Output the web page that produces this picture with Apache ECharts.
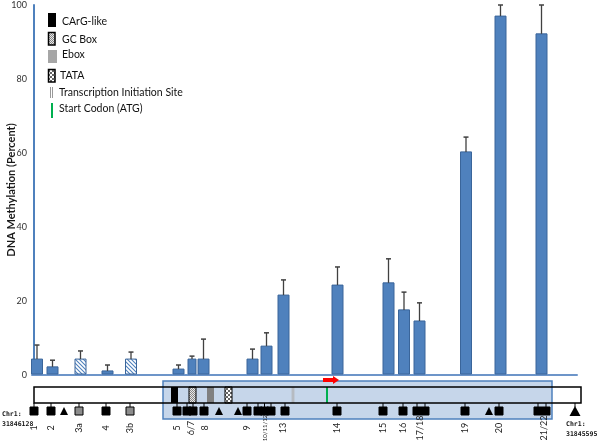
<!DOCTYPE html>
<html><head><meta charset="utf-8">
<script src="https://cdn.jsdelivr.net/npm/echarts@6/dist/echarts.min.js"></script>
<style>html,body{margin:0;padding:0;background:#fff}#c{width:600px;height:443px}</style>
</head><body><div id="c"></div>
<script>
// ---- data ----
const barLabels    = ['1','2','3a','4','3b','5','6/7','8','9','10/11/12','13','14','15','16','17/18','19','20','21/22'];
const barPositions = [3, 18.5, 46.5, 73.5, 97, 144.5, 158, 169.5, 218.5, 232.5, 249.5, 303.5, 354.5, 370, 385.5, 432, 466.5, 507.5];
const barValues    = [4.3, 2.2, 4.3, 1.1, 4.3, 1.6, 4.3, 4.3, 4.3, 7.8, 21.6, 24.3, 24.9, 17.6, 14.6, 60.3, 97.0, 92.2];
const barErrors    = [3.8, 1.8, 2.2, 1.6, 1.9, 1.1, 0.8, 5.4, 2.7, 3.6, 4.1, 4.9, 6.5, 4.8, 4.9, 4.0, 3.0, 7.8];
const hatchedBars  = ['3a','3b'];

const sitePositions = [0,17,30,45,72,96,143,153,159,170,185,204,213,224,230.5,237,251,303,349,369,383,391,431,455,465,504,512,541];
const siteTypes     = ['sq','sq','tri','gsq','sq','gsq','sq','sq','sq','sq','tri','tri','sq','sq','sq','sq','sq','sq','sq','sq','sq','sq','sq','tri','sq','sq','sq','end'];

const siteLabels     = ['1','2','3a','4','3b','5','6/7','8','9','10/11/12','13','14','15','16','17/18','19','20','21/22'];
const siteLabelPos   = [0,17,45,72,96,143,157,171,213,231,249,303,349,369,386,431,465,510];

const geneSpan      = [0, 547];
const shadedRegion  = [129, 518];
const elementNames  = ['CArG-like','GC Box','Ebox','TATA'];
const elementStarts = [137, 155, 173, 191];
const elementEnds   = [144, 162, 180, 198];
const tisPosition   = 259;
const atgPosition   = 293;
const arrowSpan     = [289, 305];
const chrStart      = 'Chr1:\n31846128';
const chrEnd        = 'Chr1:\n31845595';

// ---- patterns ----
function pattern(w, h, draw) {
  const c = document.createElement('canvas'); c.width = w; c.height = h;
  const g = c.getContext('2d'); draw(g, w, h);
  return { image: c, repeat: 'repeat' };
}
const hatch = pattern(4, 4, (g) => {
  g.fillStyle = '#fff'; g.fillRect(0,0,4,4);
  g.strokeStyle = '#4f81bd'; g.lineWidth = 1.1;
  g.beginPath(); g.moveTo(-1,-1); g.lineTo(5,5); g.moveTo(-1,3); g.lineTo(1,5); g.moveTo(3,-1); g.lineTo(5,1); g.stroke();
});
const dots = pattern(2, 2, (g) => {
  g.fillStyle = '#e8e8e8'; g.fillRect(0,0,2,2);
  g.fillStyle = '#888'; g.fillRect(0,0,1,1); g.fillRect(1,1,1,1);
});
const checker = pattern(4, 4, (g) => {
  g.fillStyle = '#666'; g.fillRect(0,0,4,4);
  g.fillStyle = '#fff'; g.fillRect(0,0,2,2); g.fillRect(2,2,2,2);
});
const elementFill = {'CArG-like':'#000','GC Box':dots,'Ebox':'#808080','TATA':checker};
const elementStroke = {'CArG-like':null,'GC Box':'#000','Ebox':null,'TATA':'#000'};

const BLUE = '#4f81bd';
const chart = echarts.init(document.getElementById('c'));
const font = 'Lato, "Open Sans", sans-serif';

const option = {
  animation: false,
  grid: { left: 32, right: 23, top: 5, bottom: 68, containLabel: false, outerBoundsMode: 'none' },
  xAxis: { type: 'value', min: -2, max: 543, axisLine: { show: true, lineStyle: { color: '#6d95c9', width: 2 } },
           axisTick: { show: false }, axisLabel: { show: false }, splitLine: { show: false } },
  yAxis: { type: 'value', min: 0, max: 100, interval: 20,
           name: 'DNA Methylation (Percent)', nameLocation: 'middle', nameGap: 15, nameMoveOverlap: false,
           nameTextStyle: { fontFamily: font, fontWeight: 'bold', fontSize: 11, color: '#1a1a1a' },
           axisLine: { show: true, lineStyle: { color: BLUE, width: 2 } }, axisTick: { show: false },
           axisLabel: { fontFamily: font, fontSize: 9, color: '#333', margin: 5 }, splitLine: { show: false } },
  series: [
    // shaded region
    { type: 'custom', clip: false, data: [[shadedRegion[0], shadedRegion[1]]], encode: { x: [0, 1] },
      renderItem: (p, api) => {
        const a = api.coord([api.value(0), 0]), b = api.coord([api.value(1), 0]);
        return { type: 'rect', shape: { x: a[0], y: a[1] + 6, width: b[0] - a[0], height: 38 },
                 style: { fill: '#c6d6ea', stroke: BLUE, lineWidth: 1.5 } };
      } },
    // gene elements
    { type: 'custom', clip: false, data: elementNames.map((n, i) => [elementStarts[i], elementEnds[i], i]), encode: { x: [0, 1] },
      renderItem: (p, api) => {
        const n = elementNames[api.value(2)];
        const a = api.coord([api.value(0), 0]), b = api.coord([api.value(1), 0]);
        return { type: 'rect', shape: { x: a[0], y: a[1] + 12, width: b[0] - a[0], height: 16 },
                 style: { fill: elementFill[n], stroke: elementStroke[n], lineWidth: elementStroke[n] ? 1 : 0 } };
      } },
    // TIS and ATG
    { type: 'custom', clip: false, data: [[tisPosition, 0], [atgPosition, 1]], encode: { x: 0 },
      renderItem: (p, api) => {
        const a = api.coord([api.value(0), 0]);
        if (api.value(1) === 0) {
          return { type: 'group', children: [
            { type: 'line', shape: { x1: a[0] - 0.8, y1: a[1] + 12, x2: a[0] - 0.8, y2: a[1] + 28 }, style: { stroke: '#b0b0b0', lineWidth: 1 } },
            { type: 'line', shape: { x1: a[0] + 0.8, y1: a[1] + 12, x2: a[0] + 0.8, y2: a[1] + 28 }, style: { stroke: '#b0b0b0', lineWidth: 1 } } ] };
        }
        return { type: 'line', shape: { x1: a[0], y1: a[1] + 12, x2: a[0], y2: a[1] + 28 }, style: { stroke: '#00b050', lineWidth: 2 } };
      } },
    // gene outline
    { type: 'custom', clip: false, data: [[geneSpan[0], geneSpan[1]]], encode: { x: [0, 1] },
      renderItem: (p, api) => {
        const a = api.coord([api.value(0), 0]), b = api.coord([api.value(1), 0]);
        return { type: 'rect', shape: { x: a[0], y: a[1] + 12, width: b[0] - a[0], height: 16 },
                 style: { fill: null, stroke: '#000', lineWidth: 1.5 } };
      } },
    // arrow
    { type: 'custom', clip: false, data: [[arrowSpan[0], arrowSpan[1]]], encode: { x: [0, 1] },
      renderItem: (p, api) => {
        const a = api.coord([api.value(0), 0]), b = api.coord([api.value(1), 0]);
        const y = a[1] + 5, L = a[0], R = b[0], h = R - 6;
        return { type: 'polygon', shape: { points: [[L, y - 2], [h, y - 2], [h, y - 4], [R, y], [h, y + 4], [h, y + 2], [L, y + 2]] },
                 style: { fill: '#ff0000' } };
      } },
    // site markers
    { type: 'custom', clip: false, data: sitePositions.map((x, i) => [x, i]), encode: { x: 0 },
      renderItem: (p, api) => {
        const t = siteTypes[api.value(1)];
        const a = api.coord([api.value(0), 0]);
        const x = a[0], y = a[1] + 36;
        if (t === 'tri') {
          return { type: 'polygon', shape: { points: [[x - 4, y + 4], [x + 4, y + 4], [x, y - 4]] }, style: { fill: '#000' } };
        }
        if (t === 'end') {
          return { type: 'group', children: [
            { type: 'line', shape: { x1: x, y1: a[1] + 28, x2: x, y2: y - 4 }, style: { stroke: '#000', lineWidth: 1 } },
            { type: 'polygon', shape: { points: [[x - 5.5, y + 5], [x + 5.5, y + 5], [x, y - 5]] }, style: { fill: '#000' } } ] };
        }
        return { type: 'group', children: [
          { type: 'line', shape: { x1: x, y1: a[1] + 28, x2: x, y2: y - 4 }, style: { stroke: '#000', lineWidth: 1 } },
          { type: 'rect', shape: { x: x - 4, y: y - 4, width: 8, height: 8 },
            style: { fill: t === 'gsq' ? '#8c8c8c' : '#000', stroke: '#000', lineWidth: 1 } } ] };
      } },
    // site labels
    { type: 'custom', clip: false, data: siteLabelPos.map((x, i) => [x, i]), encode: { x: 0 },
      renderItem: (p, api) => {
        const s = siteLabels[api.value(1)];
        const a = api.coord([api.value(0), 0]);
        return { type: 'text', x: a[0], y: a[1] + 53, rotation: Math.PI / 2,
                 style: { text: s, align: 'center', verticalAlign: 'middle', fill: '#222',
                          font: (s.length > 6 ? '6px ' : '9px ') + font } };
      } },
    // bars
    { type: 'custom', clip: false, data: barLabels.map((l, i) => [barPositions[i], barValues[i], i]), encode: { x: 0, y: 1 },
      renderItem: (p, api) => {
        const l = barLabels[api.value(2)];
        const w = l === '6/7' ? 8 : 11;
        const b = api.coord([api.value(0), 0]), t = api.coord([api.value(0), api.value(1)]);
        return { type: 'rect', shape: { x: b[0] - w / 2, y: t[1], width: w, height: b[1] - t[1] - 1 },
                 style: { fill: hatchedBars.includes(l) ? hatch : BLUE, stroke: '#3a659a', lineWidth: 1 } };
      } },
    // error bars
    { type: 'custom', clip: false, data: barLabels.map((l, i) => [barPositions[i], barValues[i], barValues[i] + barErrors[i]]), encode: { x: 0, y: [1, 2] },
      renderItem: (p, api) => {
        const a = api.coord([api.value(0), api.value(1)]), b = api.coord([api.value(0), api.value(2)]);
        return { type: 'group', children: [
          { type: 'line', shape: { x1: a[0], y1: a[1], x2: b[0], y2: b[1] }, style: { stroke: '#404040', lineWidth: 1.3 } },
          { type: 'line', shape: { x1: b[0] - 2.5, y1: b[1], x2: b[0] + 2.5, y2: b[1] }, style: { stroke: '#404040', lineWidth: 1.5 } } ] };
      } }
  ],
  graphic: [
    { type: 'rect', shape: { x: 48, y: 13, width: 8, height: 14 }, style: { fill: '#000' } },
    { type: 'text', x: 62, y: 22, style: { text: 'CArG-like', font: '10.5px ' + font, fill: '#111', verticalAlign: 'middle' } },
    { type: 'rect', shape: { x: 48.5, y: 32.5, width: 6.5, height: 12.5 }, style: { fill: dots, stroke: '#000', lineWidth: 1.5 } },
    { type: 'text', x: 62, y: 40, style: { text: 'GC Box', font: '10.5px ' + font, fill: '#111', verticalAlign: 'middle' } },
    { type: 'rect', shape: { x: 48, y: 50, width: 9, height: 13 }, style: { fill: '#a6a6a6' } },
    { type: 'text', x: 62, y: 55, style: { text: 'Ebox', font: '10.5px ' + font, fill: '#111', verticalAlign: 'middle' } },
    { type: 'rect', shape: { x: 48.5, y: 69.5, width: 6.5, height: 12.5 }, style: { fill: checker, stroke: '#000', lineWidth: 1.5 } },
    { type: 'text', x: 60, y: 76, style: { text: 'TATA', font: '10.5px ' + font, fill: '#111', verticalAlign: 'middle' } },
    { type: 'line', shape: { x1: 50.5, y1: 87, x2: 50.5, y2: 98 }, style: { stroke: '#999', lineWidth: 1 } },
    { type: 'line', shape: { x1: 52.5, y1: 87, x2: 52.5, y2: 98 }, style: { stroke: '#999', lineWidth: 1 } },
    { type: 'text', x: 59, y: 93, style: { text: 'Transcription Initiation Site', font: '10.5px ' + font, fill: '#111', verticalAlign: 'middle' } },
    { type: 'line', shape: { x1: 52, y1: 103, x2: 52, y2: 118 }, style: { stroke: '#00b050', lineWidth: 2 } },
    { type: 'text', x: 59, y: 109, style: { text: 'Start Codon (ATG)', font: '10.5px ' + font, fill: '#111', verticalAlign: 'middle' } },
    { type: 'text', x: 2, y: 409, style: { text: chrStart, font: 'bold 6.5px "DejaVu Sans Mono", monospace', fill: '#111', lineHeight: 10 } },
    { type: 'text', x: 566, y: 419, style: { text: chrEnd, font: 'bold 6.5px "DejaVu Sans Mono", monospace', fill: '#111', lineHeight: 10 } }
  ]
};
chart.setOption(option);
</script></body></html>
